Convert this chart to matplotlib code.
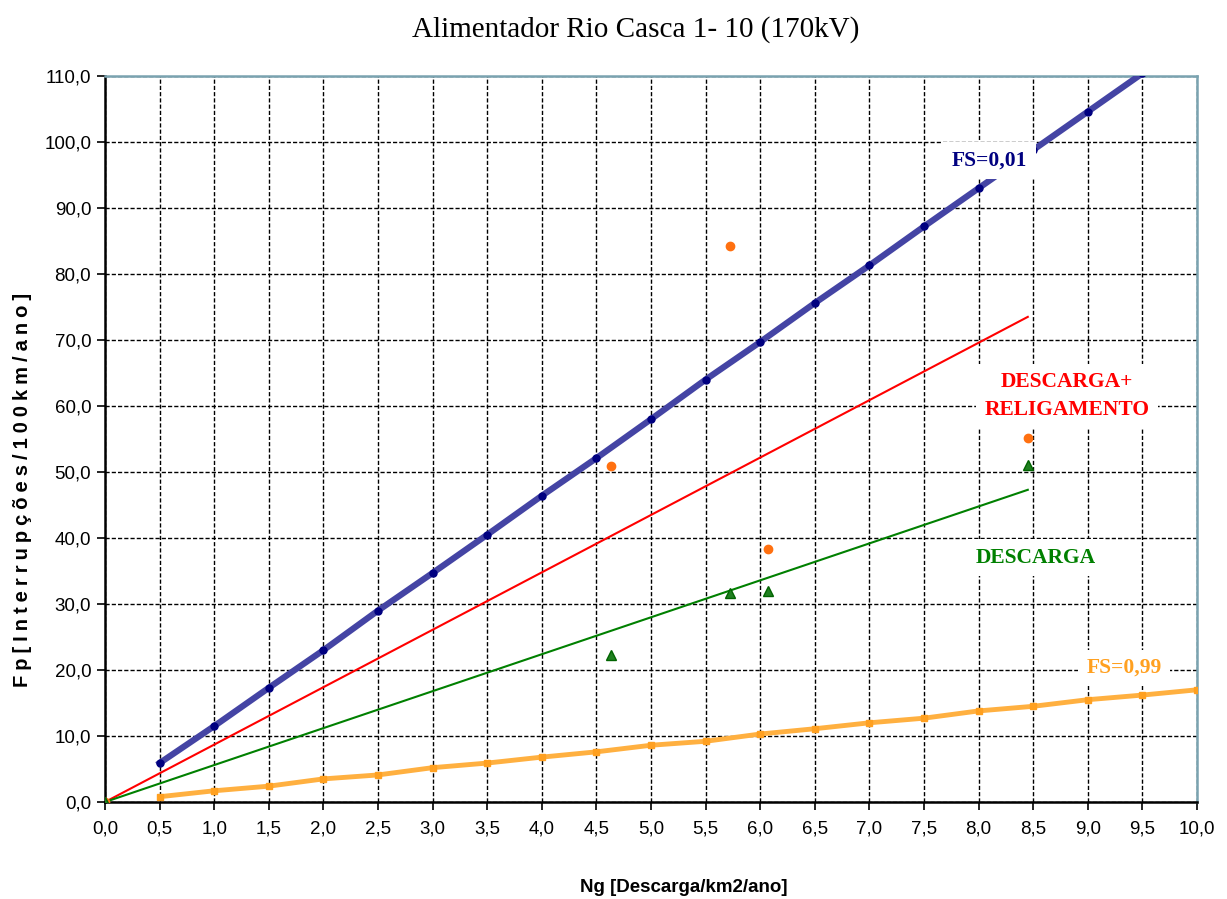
import matplotlib.pyplot as plt
from matplotlib.ticker import FuncFormatter, MultipleLocator

# curva FS=0,01
ng_fs01 = [0.5, 1.0, 1.5, 2.0, 2.5, 3.0, 3.5, 4.0, 4.5, 5.0, 5.5, 6.0, 6.5, 7.0, 7.5, 8.0, 8.5, 9.0, 9.5, 10.0]
fp_fs01 = [5.9, 11.5, 17.3, 23.0, 29.0, 34.7, 40.5, 46.4, 52.1, 58.0, 64.0, 69.7, 75.6, 81.3, 87.2, 93.0, 98.8, 104.6, 110.4, 116.2]

# curva FS=0,99
ng_fs99 = [0.5, 1.0, 1.5, 2.0, 2.5, 3.0, 3.5, 4.0, 4.5, 5.0, 5.5, 6.0, 6.5, 7.0, 7.5, 8.0, 8.5, 9.0, 9.5, 10.0]
fp_fs99 = [0.8, 1.7, 2.4, 3.5, 4.1, 5.2, 5.9, 6.8, 7.6, 8.6, 9.2, 10.3, 11.1, 12.0, 12.7, 13.8, 14.5, 15.5, 16.2, 17.0]

# tendencias
ng_trend = [0.0, 8.45]
fp_desc_rel_trend = [0.0, 73.5]
fp_desc_trend = [0.0, 47.3]

# pontos medidos
ng_med = [0.0, 4.63, 5.72, 6.07, 8.45]
fp_desc_rel = [0.0, 50.9, 84.2, 38.4, 55.1]
fp_desc = [0.0, 22.2, 31.6, 31.9, 51.0]

fig = plt.figure(figsize=(12.27, 8.99), dpi=100)
ax = fig.add_axes([0.0856, 0.1079, 0.89, 0.8076])

ax.plot(ng_fs01, fp_fs01, color="#4444a4", lw=4.5, marker="o", ms=5,
        mfc="#000080", mec="#000080", zorder=4)
ax.plot(ng_fs99, fp_fs99, color="#ffb040", lw=3.5, marker="s", ms=4.5,
        mfc="#ffa020", mec="#ffa020", zorder=4)
ax.plot(ng_trend, fp_desc_rel_trend, color="#ff0000", lw=1.5, zorder=3)
ax.plot(ng_trend, fp_desc_trend, color="#008000", lw=1.5, zorder=3)
ax.plot(ng_med, fp_desc_rel, ls="none", marker="o", ms=6, color="#ff7010", zorder=5)
ax.plot(ng_med, fp_desc, ls="none", marker="^", ms=7, mfc="#208020", mec="#006400", zorder=5)

ax.set_xlim(0, 10)
ax.set_ylim(0, 110)
ax.xaxis.set_major_locator(MultipleLocator(0.5))
ax.yaxis.set_major_locator(MultipleLocator(10))
fmt = FuncFormatter(lambda v, p: f"{v:.1f}".replace(".", ","))
ax.xaxis.set_major_formatter(fmt)
ax.yaxis.set_major_formatter(fmt)
ax.tick_params(direction="out", length=6, width=1.2, labelsize=13.5)
ax.tick_params(axis="x", pad=7)
ax.tick_params(axis="y", pad=4)
for lab in ax.get_xticklabels() + ax.get_yticklabels():
    lab.set_family("Liberation Sans")

ax.grid(True, color="black", ls=(0, (3, 1.5)), lw=1.0)
ax.set_axisbelow(True)
for s in ["left", "bottom"]:
    ax.spines[s].set_color("black")
    ax.spines[s].set_linewidth(1.8)
for s in ["top", "right"]:
    ax.spines[s].set_color("#7aa3b0")
    ax.spines[s].set_linewidth(1.8)

box = dict(facecolor="white", edgecolor="none", pad=6)
ax.text(8.1, 97.2, "FS=0,01", color="#000080", fontsize=15.5, fontweight="bold",
        family="Liberation Serif", ha="center", va="center", bbox=box, zorder=6)
ax.text(8.81, 61.5, "DESCARGA+\nRELIGAMENTO", color="#ff0000", fontsize=15.5, fontweight="bold",
        family="Liberation Serif", ha="center", va="center", linespacing=1.5, bbox=box, zorder=6)
ax.text(8.52, 37.0, "DESCARGA", color="#008000", fontsize=15.5, fontweight="bold",
        family="Liberation Serif", ha="center", va="center", bbox=box, zorder=6)
ax.text(9.33, 20.3, "FS=0,99", color="#ffa020", fontsize=15.5, fontweight="bold",
        family="Liberation Serif", ha="center", va="center", bbox=box, zorder=6)

fig.text(0.518, 0.967, "Alimentador Rio Casca 1- 10 (170kV)", fontsize=21,
         family="Liberation Serif", ha="center", va="center")
fig.text(0.557, 0.013, "Ng [Descarga/km2/ano]", fontsize=13.5, fontweight="bold",
         family=["Liberation Sans", "DejaVu Sans"], ha="center", va="center")
# rotulo com espacamento entre letras
ylab = "\u2005".join("Fp[Interrupções/100km/ano]")
fig.text(0.018, 0.455, ylab, fontsize=14.5, fontweight="bold",
         family=["Liberation Sans", "DejaVu Sans"], ha="center", va="center", rotation=90)

fig.savefig("out.png", dpi=100)
